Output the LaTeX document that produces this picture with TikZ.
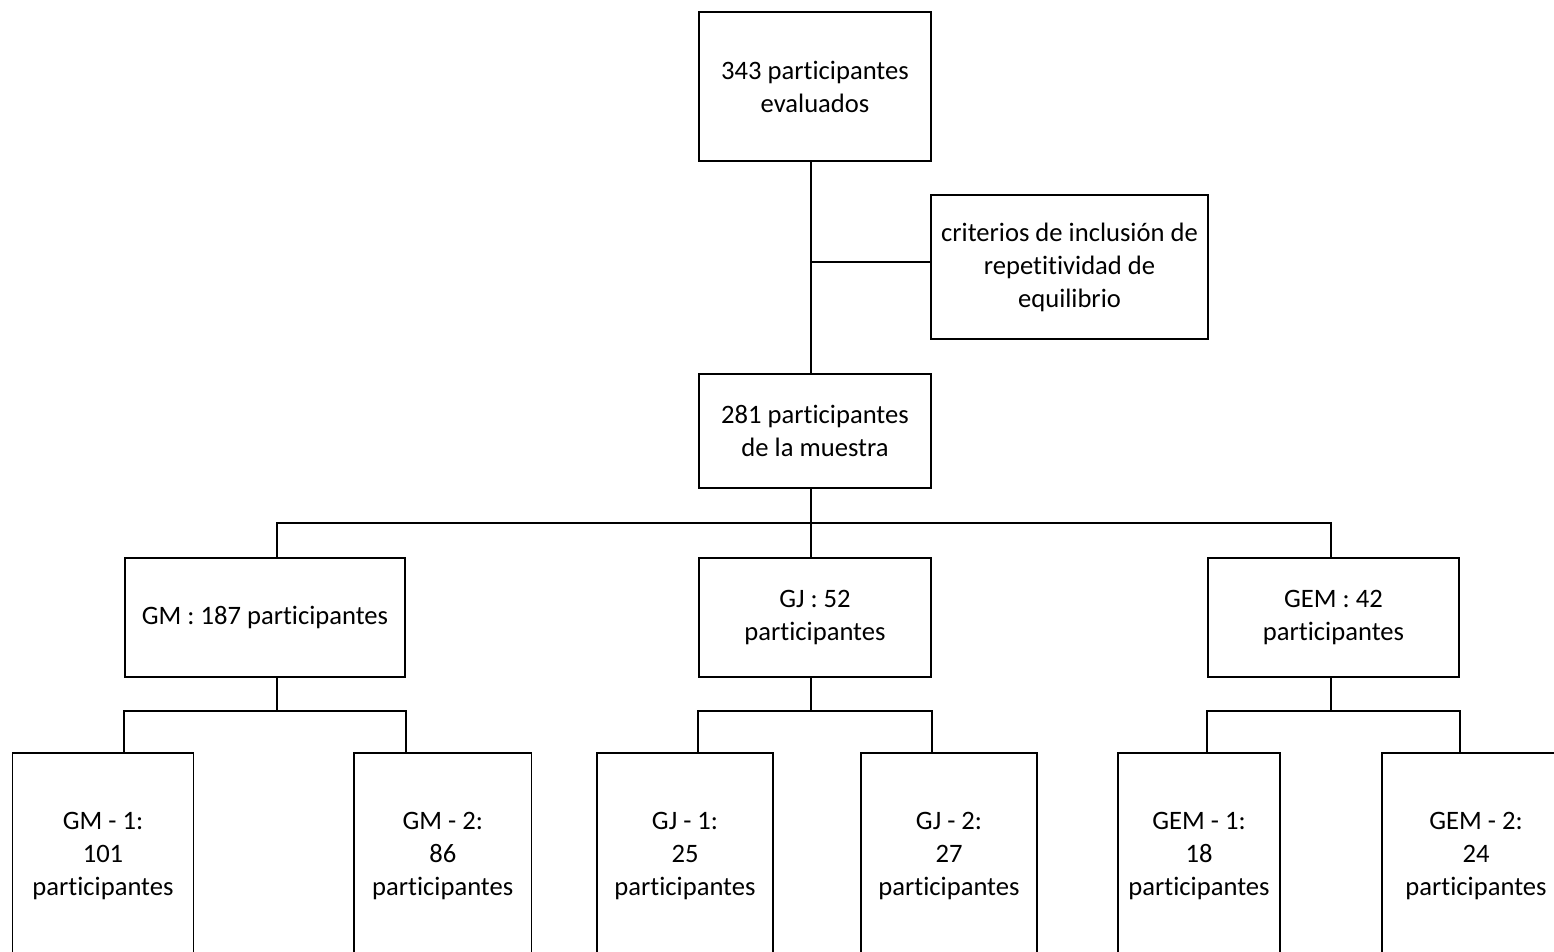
\documentclass[tikz,border=0pt]{standalone}
\usepackage{fontspec}
\setmainfont{Carlito}[Ligatures=NoCommon]
\begin{document}
\begin{tikzpicture}[x=1pt,y=-1pt,line width=1.8pt,
  box/.style={draw, rectangle, inner sep=0pt, align=center,
    font=\fontsize{26.6}{33}\selectfont}]
\fill[white] (0,0) rectangle (1554,952);
\useasboundingbox (0,0) rectangle (1554,952);
% main boxes
\node[box, minimum width=232pt, minimum height=149pt] (n343) at (815,86.5) {343 participantes\\evaluados};
\node[box, minimum width=277pt, minimum height=144.5pt] (crit) at (1069.5,267) {criterios de inclusión de\\repetitividad de\\equilibrio};
\node[box, minimum width=232pt, minimum height=114.5pt] (n281) at (815,431) {281 participantes\\de la muestra};
\node[box, minimum width=280pt, minimum height=119pt] (gm) at (265,617.5) {GM : 187 participantes};
\node[box, minimum width=232pt, minimum height=119pt] (gj) at (815,617.5) {GJ : 52\\participantes};
\node[box, minimum width=251pt, minimum height=119pt] (gem) at (1333.5,617.5) {GEM : 42\\participantes};
% sub-group boxes
\node[box, minimum width=181pt, minimum height=206pt] (gm1) at (103,856) {GM - 1:\\101\\participantes};
\node[box, minimum width=177.5pt, minimum height=206pt] (gm2) at (442.75,856) {GM - 2:\\86\\participantes};
\node[box, minimum width=176pt, minimum height=206pt] (gj1) at (685,856) {GJ - 1:\\25\\participantes};
\node[box, minimum width=176pt, minimum height=206pt] (gj2) at (949,856) {GJ - 2:\\27\\participantes};
\node[box, minimum width=162pt, minimum height=206pt] (gem1) at (1199,856) {GEM - 1:\\18\\participantes};
\node[box, minimum width=188pt, minimum height=206pt] (gem2) at (1476,856) {GEM - 2:\\24\\participantes};
% connector anchors
\coordinate (tA) at (811,0);
\coordinate (xGM) at (277,0);
\coordinate (xGEM) at (1331,0);
\coordinate (cj) at (811,262);
\coordinate (bus) at (0,523);
\coordinate (sub) at (0,711);
% connectors
\draw (n343.south -| tA) -- (n281.north -| tA);
\draw (cj) -- (cj -| crit.west);
\draw (n281.south -| tA) -- (gj.north -| tA);
\draw (gm.north -| xGM) -- (xGM |- bus) -- (xGEM |- bus) -- (gem.north -| xGEM);
% GM split
\draw (gm.south -| xGM) -- (xGM |- sub);
\draw (gm1.north -| gm.west) -- (gm.west |- sub) -- (gm.east |- sub) -- (gm2.north -| gm.east);
% GJ split
\draw (gj.south -| tA) -- (tA |- sub);
\draw (gj1.north -| gj.west) -- (gj.west |- sub) -- (gj.east |- sub) -- (gj2.north -| gj.east);
% GEM split
\draw (gem.south -| xGEM) -- (xGEM |- sub);
\draw (gem1.north -| gem.west) -- (gem.west |- sub) -- (gem.east |- sub) -- (gem2.north -| gem.east);
\end{tikzpicture}
\end{document}
